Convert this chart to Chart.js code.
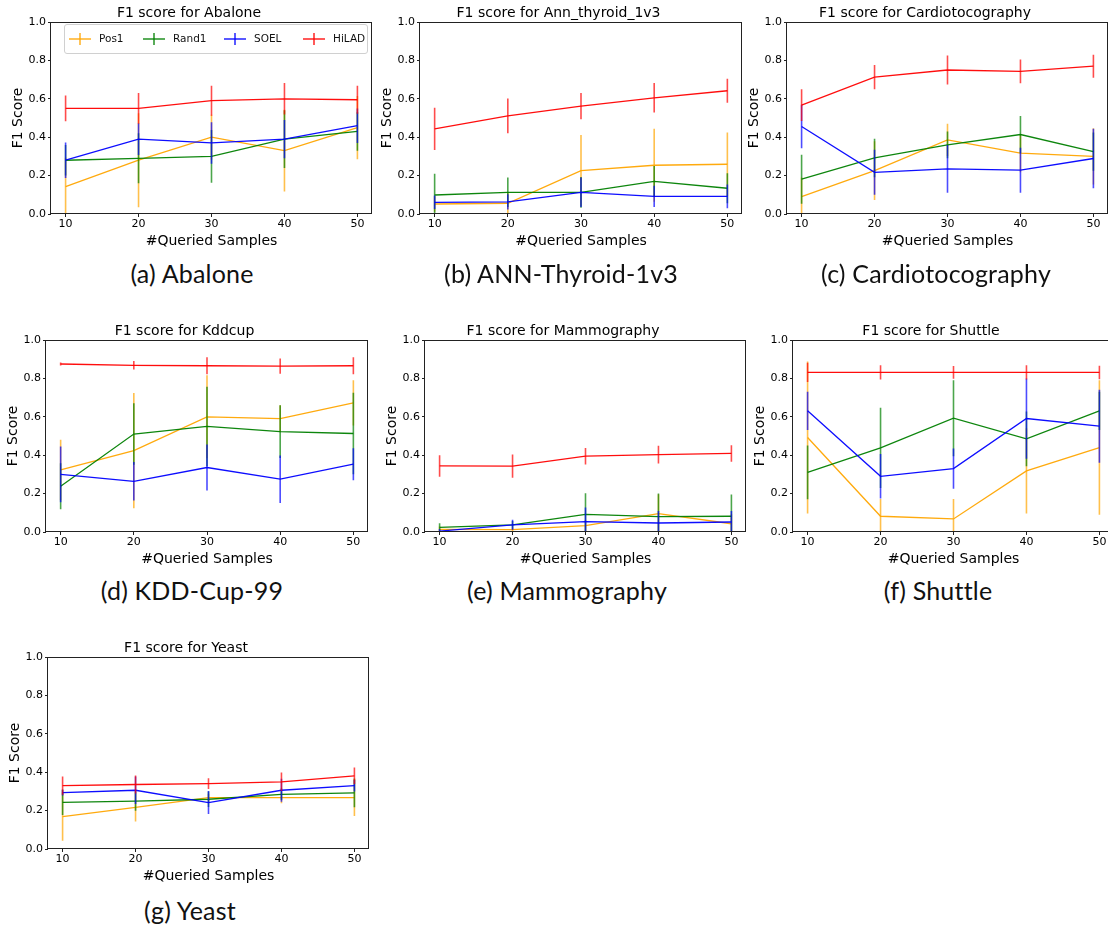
<!DOCTYPE html>
<html><head><meta charset="utf-8">
<script src="https://cdn.jsdelivr.net/npm/chart.js@4.4.0/dist/chart.umd.min.js"></script>
<style>
html,body{margin:0;padding:0;background:#fff;}
body{width:1108px;height:928px;overflow:hidden;position:relative;font-family:"DejaVu Sans",sans-serif;}
canvas{position:absolute;}
.cap{position:absolute;font-family:Lato,"DejaVu Sans",sans-serif;font-size:25px;letter-spacing:0.2px;color:#111;transform:translate(-50%,-50%);white-space:nowrap;line-height:30px;}
.legend{position:absolute;left:64px;top:24px;width:302px;height:28px;border:1px solid #d0d0d0;border-radius:3px;background:rgba(255,255,255,0.85);z-index:5;}
.li{position:absolute;top:0;height:28px;}
.sh{position:absolute;top:13px;left:0;width:22px;height:1.5px;opacity:0.65;}
.sv{position:absolute;top:8px;left:10px;width:1.5px;height:12px;opacity:0.65;}
.lt{position:absolute;top:7px;font-size:10.5px;color:#111;white-space:nowrap;}
</style></head>
<body>
<script>
// ---------- data ----------
const samples = [10, 20, 30, 40, 50];
const methods = ['Pos1', 'Rand1', 'SOEL', 'HiLAD'];
const yTicks = [0, 0.2, 0.4, 0.6, 0.8, 1.0];

// Abalone
const abalone_pos1 = [0.143, 0.28, 0.40, 0.33, 0.45];
const abalone_pos1_err = [0.15, 0.245, 0.117, 0.213, 0.165];
const abalone_rand1 = [0.28, 0.29, 0.30, 0.39, 0.43];
const abalone_rand1_err = [0.08, 0.13, 0.137, 0.15, 0.10];
const abalone_soel = [0.28, 0.39, 0.37, 0.39, 0.46];
const abalone_soel_err = [0.093, 0.083, 0.108, 0.10, 0.09];
const abalone_hilad = [0.55, 0.55, 0.59, 0.60, 0.595];
const abalone_hilad_err = [0.067, 0.08, 0.078, 0.082, 0.073];

// Ann_thyroid_1v3
const thyroid_pos1 = [0.052, 0.056, 0.226, 0.254, 0.259];
const thyroid_pos1_err = [0.04, 0.055, 0.186, 0.19, 0.165];
const thyroid_rand1 = [0.099, 0.113, 0.113, 0.17, 0.134];
const thyroid_rand1_err = [0.11, 0.077, 0.08, 0.08, 0.078];
const thyroid_soel = [0.061, 0.063, 0.113, 0.092, 0.092];
const thyroid_soel_err = [0.035, 0.04, 0.077, 0.055, 0.062];
const thyroid_hilad = [0.443, 0.511, 0.562, 0.605, 0.642];
const thyroid_hilad_err = [0.11, 0.09, 0.068, 0.077, 0.062];

// Cardiotocography
const cardio_pos1 = [0.09, 0.226, 0.386, 0.317, 0.30];
const cardio_pos1_err = [0.10, 0.153, 0.084, 0.10, 0.147];
const cardio_rand1 = [0.181, 0.292, 0.36, 0.414, 0.325];
const cardio_rand1_err = [0.127, 0.10, 0.07, 0.097, 0.10];
const cardio_soel = [0.456, 0.217, 0.235, 0.228, 0.289];
const cardio_soel_err = [0.113, 0.117, 0.124, 0.117, 0.155];
const cardio_hilad = [0.567, 0.713, 0.75, 0.743, 0.77];
const cardio_hilad_err = [0.083, 0.063, 0.076, 0.062, 0.06];

// Kddcup
const kdd_pos1 = [0.323, 0.424, 0.60, 0.59, 0.673];
const kdd_pos1_err = [0.158, 0.30, 0.216, 0.07, 0.118];
const kdd_rand1 = [0.238, 0.51, 0.55, 0.523, 0.513];
const kdd_rand1_err = [0.12, 0.16, 0.207, 0.137, 0.212];
const kdd_soel = [0.30, 0.264, 0.336, 0.275, 0.353];
const kdd_soel_err = [0.145, 0.10, 0.12, 0.124, 0.083];
const kdd_hilad = [0.875, 0.868, 0.866, 0.864, 0.866];
const kdd_hilad_err = [0.008, 0.022, 0.044, 0.04, 0.044];

// Mammography
const mammo_pos1 = [0.014, 0.012, 0.033, 0.096, 0.043];
const mammo_pos1_err = [0.015, 0.01, 0.03, 0.10, 0.05];
const mammo_rand1 = [0.024, 0.037, 0.092, 0.08, 0.082];
const mammo_rand1_err = [0.022, 0.02, 0.11, 0.12, 0.113];
const mammo_soel = [0.005, 0.037, 0.054, 0.047, 0.052];
const mammo_soel_err = [0.01, 0.027, 0.073, 0.063, 0.058];
const mammo_hilad = [0.344, 0.343, 0.395, 0.403, 0.409];
const mammo_hilad_err = [0.056, 0.06, 0.043, 0.046, 0.043];

// Shuttle
const shuttle_pos1 = [0.492, 0.082, 0.068, 0.318, 0.44];
const shuttle_pos1_err = [0.396, 0.09, 0.104, 0.222, 0.35];
const shuttle_rand1 = [0.31, 0.438, 0.593, 0.485, 0.631];
const shuttle_rand1_err = [0.14, 0.209, 0.198, 0.142, 0.10];
const shuttle_soel = [0.631, 0.29, 0.33, 0.591, 0.551];
const shuttle_soel_err = [0.10, 0.116, 0.105, 0.209, 0.19];
const shuttle_hilad = [0.831, 0.831, 0.831, 0.831, 0.831];
const shuttle_hilad_err = [0.05, 0.037, 0.033, 0.037, 0.035];

// Yeast
const yeast_pos1 = [0.169, 0.217, 0.268, 0.268, 0.268];
const yeast_pos1_err = [0.126, 0.074, 0.02, 0.03, 0.096];
const yeast_rand1 = [0.243, 0.249, 0.259, 0.285, 0.292];
const yeast_rand1_err = [0.066, 0.05, 0.04, 0.03, 0.075];
const yeast_soel = [0.294, 0.306, 0.242, 0.306, 0.33];
const yeast_soel_err = [0.016, 0.071, 0.06, 0.06, 0.03];
const yeast_hilad = [0.33, 0.336, 0.341, 0.35, 0.381];
const yeast_hilad_err = [0.047, 0.047, 0.028, 0.048, 0.043];

// ---------- layout / style ----------
const colors = {Pos1: [255,165,0], Rand1: [0,128,0], SOEL: [0,0,255], HiLAD: [255,0,0]};
const rgba = (c, a) => `rgba(${c[0]},${c[1]},${c[2]},${a})`;

const panels = [
  {title: 'F1 score for Abalone', L: 51, T: 22, W: 321, H: 192,
   s: [[abalone_pos1, abalone_pos1_err], [abalone_rand1, abalone_rand1_err], [abalone_soel, abalone_soel_err], [abalone_hilad, abalone_hilad_err]],
   cap: '(a) Abalone', cx: 192, cy: 273},
  {title: 'F1 score for Ann_thyroid_1v3', L: 420, T: 22, W: 322, H: 192,
   s: [[thyroid_pos1, thyroid_pos1_err], [thyroid_rand1, thyroid_rand1_err], [thyroid_soel, thyroid_soel_err], [thyroid_hilad, thyroid_hilad_err]],
   cap: '(b) ANN-Thyroid-1v3', cx: 561, cy: 273},
  {title: 'F1 score for Cardiotocography', L: 787, T: 22, W: 321, H: 192,
   s: [[cardio_pos1, cardio_pos1_err], [cardio_rand1, cardio_rand1_err], [cardio_soel, cardio_soel_err], [cardio_hilad, cardio_hilad_err]],
   cap: '(c) Cardiotocography', cx: 936, cy: 273},
  {title: 'F1 score for Kddcup', L: 46, T: 340, W: 322, H: 192,
   s: [[kdd_pos1, kdd_pos1_err], [kdd_rand1, kdd_rand1_err], [kdd_soel, kdd_soel_err], [kdd_hilad, kdd_hilad_err]],
   cap: '(d) KDD-Cup-99', cx: 192, cy: 590},
  {title: 'F1 score for Mammography', L: 425, T: 340, W: 321, H: 192,
   s: [[mammo_pos1, mammo_pos1_err], [mammo_rand1, mammo_rand1_err], [mammo_soel, mammo_soel_err], [mammo_hilad, mammo_hilad_err]],
   cap: '(e) Mammography', cx: 567, cy: 590},
  {title: 'F1 score for Shuttle', L: 793, T: 340, W: 321, H: 192,
   s: [[shuttle_pos1, shuttle_pos1_err], [shuttle_rand1, shuttle_rand1_err], [shuttle_soel, shuttle_soel_err], [shuttle_hilad, shuttle_hilad_err]],
   cap: '(f) Shuttle', cx: 938, cy: 590},
  {title: 'F1 score for Yeast', L: 48, T: 657, W: 321, H: 192,
   s: [[yeast_pos1, yeast_pos1_err], [yeast_rand1, yeast_rand1_err], [yeast_soel, yeast_soel_err], [yeast_hilad, yeast_hilad_err]],
   cap: '(g) Yeast', cx: 190, cy: 910}
];

const YW = 45, XH = 36, TH = 23, PR = 4;

const framePlugin = {
  id: 'frame',
  afterDraw(chart) {
    const a = chart.chartArea, ctx = chart.ctx;
    ctx.save();
    ctx.strokeStyle = '#222';
    ctx.lineWidth = 1;
    ctx.strokeRect(Math.round(a.left) - 0.5, Math.round(a.top) + 0.5, Math.round(a.right - a.left), Math.round(a.bottom - a.top) - 1);
    ctx.restore();
  }
};

function errData(means, errs) {
  const out = [];
  samples.forEach((x, i) => {
    out.push({x: x, y: means[i] - errs[i]}, {x: x, y: means[i] + errs[i]}, {x: x, y: null});
  });
  return out;
}

Chart.defaults.font.family = '"DejaVu Sans", sans-serif';
Chart.defaults.color = '#000';

panels.forEach(p => {
  const cv = document.createElement('canvas');
  const cw = YW + p.W + PR, ch = TH + p.H + XH;
  cv.width = cw; cv.height = ch;
  cv.style.width = cw + 'px'; cv.style.height = ch + 'px';
  cv.style.left = (p.L - YW) + 'px'; cv.style.top = (p.T - TH) + 'px';
  document.body.appendChild(cv);

  const datasets = [];
  methods.forEach((m, k) => {
    const [means, errs] = p.s[k];
    const c = colors[m];
    datasets.push({
      label: m,
      data: samples.map((x, i) => ({x: x, y: means[i]})),
      borderColor: rgba(c, 0.95), borderWidth: 1.3,
      pointRadius: 0, pointHoverRadius: 0, fill: false, tension: 0,
      order: 2 * (3 - k)
    });
    datasets.push({
      label: m + ' err',
      data: errData(means, errs),
      borderColor: rgba(c, 0.7), borderWidth: 1.6,
      pointRadius: 0, pointHoverRadius: 0, fill: false, spanGaps: false,
      order: 2 * (3 - k) + 1
    });
  });

  new Chart(cv, {
    type: 'line',
    data: {datasets},
    options: {
      responsive: false, animation: false, devicePixelRatio: 1,
      layout: {padding: {left: 0, right: PR, top: 0, bottom: 0}},
      plugins: {
        legend: {display: false}, tooltip: {enabled: false},
        title: {display: true, text: p.title, color: '#000',
                font: {size: 14, weight: 'normal', lineHeight: '17px'},
                padding: {top: 6, bottom: 0}}
      },
      scales: {
        x: {
          type: 'linear', min: 8, max: 52,
          afterBuildTicks: s => { s.ticks = samples.map(v => ({value: v})); },
          afterFit: s => { s.height = XH; },
          grid: {drawOnChartArea: false, drawTicks: true, tickLength: 3, color: '#222'},
          border: {display: false},
          ticks: {font: {size: 11}, padding: 1, color: '#000', maxRotation: 0, autoSkip: false,
                  callback: v => String(v)},
          title: {display: true, text: '#Queried Samples', font: {size: 14, lineHeight: '17px'}, padding: {top: 3, bottom: 0}, color: '#000'}
        },
        y: {
          min: 0, max: 1,
          afterBuildTicks: s => { s.ticks = yTicks.map(v => ({value: v})); },
          afterFit: s => { s.width = YW; },
          grid: {drawOnChartArea: false, drawTicks: true, tickLength: 3, color: '#222'},
          border: {display: false},
          ticks: {font: {size: 11}, padding: 2, color: '#000', callback: v => Number(v).toFixed(1)},
          title: {display: true, text: 'F1 Score', font: {size: 14, lineHeight: '17px'}, padding: {top: 4, bottom: 0}, color: '#000'}
        }
      }
    },
    plugins: [framePlugin]
  });

  const cap = document.createElement('div');
  cap.className = 'cap';
  cap.textContent = p.cap;
  cap.style.left = p.cx + 'px'; cap.style.top = p.cy + 'px';
  document.body.appendChild(cap);
});

// legend in the first panel
const lg = document.createElement('div');
lg.className = 'legend';
const legendX = [4, 78, 159, 238];
methods.forEach((m, k) => {
  const it = document.createElement('div');
  it.className = 'li';
  it.style.left = legendX[k] + 'px';
  const h = document.createElement('div');
  h.className = 'sh';
  h.style.background = rgba(colors[m], 1);
  const v = document.createElement('div');
  v.className = 'sv';
  v.style.background = rgba(colors[m], 1);
  const t = document.createElement('span');
  t.className = 'lt';
  t.style.left = '30px';
  t.textContent = m;
  it.appendChild(h); it.appendChild(v); it.appendChild(t);
  lg.appendChild(it);
});
document.body.appendChild(lg);
</script>
</body></html>
